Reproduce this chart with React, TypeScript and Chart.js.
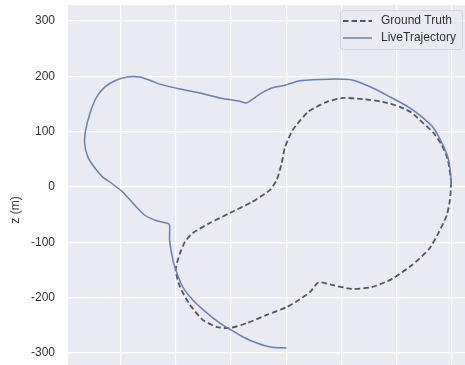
import React, { useEffect, useRef } from "react";
import { Chart, registerables } from "chart.js";

Chart.register(...registerables);

// Ground truth trajectory (x, z in metres), closed loop
const gtX = [399, 397, 391, 377, 359, 328, 292, 255, 219, 183, 159, 143, 123, 101, 65, 29, -2, -25, -51, -74, -92, -100, -92, -83, -69, -38, -2, 38, 71, 83, 92, 98, 112, 140, 174, 203, 239, 275, 306, 328, 342, 366, 382, 393, 399];
const gtZ = [9, -22, -51, -81, -112, -141, -166, -181, -184, -177, -172, -190, -204, -217, -231, -246, -255, -253, -240, -213, -181, -150, -119, -99, -83, -65, -47, -27, -5, 13, 43, 72, 103, 136, 154, 161, 159, 154, 145, 134, 121, 99, 76, 49, 9];

// Live trajectory
const liveX = [399, 398, 393, 382, 366, 342, 321, 288, 257, 221, 179, 125, 98, 74, 56, 34, 27, 16, -20, -56, -92, -129, -147, -165, -188, -210, -228, -243, -255, -263, -265, -259, -246, -232, -219, -196, -174, -156, -134, -116, -111, -111, -105, -98, -87, -69, -43, -20, -2, 22, 47, 71, 101];
const liveZ = [4, 25, 54, 80, 108, 130, 145, 163, 179, 193, 195, 192, 184, 179, 170, 155, 152, 155, 161, 170, 177, 186, 193, 199, 199, 192, 181, 163, 134, 103, 80, 54, 34, 18, 9, -9, -33, -51, -61, -65, -69, -96, -132, -155, -181, -204, -228, -246, -257, -271, -282, -289, -291];

const seriesNames = ["Ground Truth", "LiveTrajectory"];
const yTicks = [-300, -200, -100, 0, 100, 200, 300];
const xTicks = [-200, -100, 0, 100, 200, 300, 400];
const yLabel = "z (m)";

const GT_COLOR = "#55555b";
const LIVE_COLOR = "#6680b8";
const BG = "#EAEAF2";
const FONT = '"Liberation Sans", Arial, sans-serif';

const bgPlugin = {
  id: "plotBg",
  beforeDraw(chart: any) {
    const { ctx, chartArea } = chart;
    ctx.save();
    ctx.fillStyle = BG;
    ctx.fillRect(chartArea.left, chartArea.top, chartArea.right - chartArea.left, chartArea.bottom - chartArea.top);
    ctx.restore();
  },
};

const legendPlugin = {
  id: "boxLegend",
  afterDraw(chart: any) {
    const { ctx, chartArea } = chart;
    const w = 122;
    const h = 39;
    const x = chartArea.right - 3 - w;
    const y = chartArea.top + 5;
    ctx.save();
    ctx.beginPath();
    ctx.roundRect(x + 0.5, y + 0.5, w, h, 3);
    ctx.fillStyle = "rgba(234,234,242,0.85)";
    ctx.fill();
    ctx.strokeStyle = "rgba(210,210,215,0.9)";
    ctx.lineWidth = 1;
    ctx.stroke();

    const rows = [y + 11, y + 28];
    ctx.lineWidth = 1.8;
    ctx.strokeStyle = GT_COLOR;
    ctx.setLineDash([5.5, 3]);
    ctx.beginPath();
    ctx.moveTo(x + 3, rows[0]);
    ctx.lineTo(x + 32, rows[0]);
    ctx.stroke();
    ctx.setLineDash([]);
    ctx.lineWidth = 1.5;
    ctx.strokeStyle = LIVE_COLOR;
    ctx.beginPath();
    ctx.moveTo(x + 3, rows[1]);
    ctx.lineTo(x + 32, rows[1]);
    ctx.stroke();

    ctx.fillStyle = "#333";
    ctx.font = `12px ${FONT}`;
    ctx.textBaseline = "middle";
    ctx.textAlign = "left";
    ctx.fillText(seriesNames[0], x + 41, rows[0]);
    ctx.fillText(seriesNames[1], x + 41, rows[1]);
    ctx.restore();
  },
};

export default function App() {
  const ref = useRef<HTMLCanvasElement | null>(null);

  useEffect(() => {
    if (!ref.current) return;
    const gtData = gtX.map((x, i) => ({ x, y: gtZ[i] }));
    const liveData = liveX.map((x, i) => ({ x, y: liveZ[i] }));
    const chart = new Chart(ref.current, {
      type: "scatter",
      data: {
        datasets: [
          {
            label: seriesNames[0],
            data: gtData,
            showLine: true,
            borderColor: GT_COLOR,
            borderWidth: 1.8,
            borderDash: [5.5, 3],
            pointRadius: 0,
            tension: 0.2,
            order: 1,
          },
          {
            label: seriesNames[1],
            data: liveData,
            showLine: true,
            borderColor: LIVE_COLOR,
            borderWidth: 1.5,
            pointRadius: 0,
            tension: 0.2,
            order: 0,
          },
        ],
      },
      options: {
        animation: false,
        responsive: false,
        layout: { padding: { top: 5, left: 0, right: 0, bottom: 0 } },
        plugins: { legend: { display: false }, tooltip: { enabled: false } },
        scales: {
          x: {
            type: "linear",
            min: -295,
            max: 424,
            border: { display: false },
            grid: { color: "#ffffff", lineWidth: 1.2, drawTicks: false },
            ticks: { display: false },
            afterBuildTicks: (s: any) => {
              s.ticks = xTicks.map((v) => ({ value: v }));
            },
            afterFit: (s: any) => {
              s.height = 0;
              s.paddingLeft = 0;
              s.paddingRight = 0;
            },
          },
          y: {
            type: "linear",
            min: -412,
            max: 329,
            border: { display: false },
            grid: { color: "#ffffff", lineWidth: 1.2, drawTicks: false },
            ticks: {
              color: "#333",
              padding: 13,
              font: { size: 12, family: FONT },
            },
            title: {
              display: true,
              text: yLabel,
              color: "#333",
              font: { size: 12, family: FONT },
              padding: { top: 8, bottom: 0 },
            },
            afterBuildTicks: (s: any) => {
              s.ticks = yTicks.map((v) => ({ value: v }));
            },
            afterFit: (s: any) => {
              s.width = 68;
              s.paddingTop = 0;
              s.paddingBottom = 0;
            },
          },
        },
      },
      plugins: [bgPlugin, legendPlugin],
    });
    return () => chart.destroy();
  }, []);

  return (
    <div
      style={{
        position: "fixed",
        left: 0,
        top: 0,
        width: 465,
        height: 365,
        overflow: "hidden",
        background: "#fff",
      }}
    >
      <canvas ref={ref} width={465} height={415} style={{ display: "block" }} />
    </div>
  );
}
